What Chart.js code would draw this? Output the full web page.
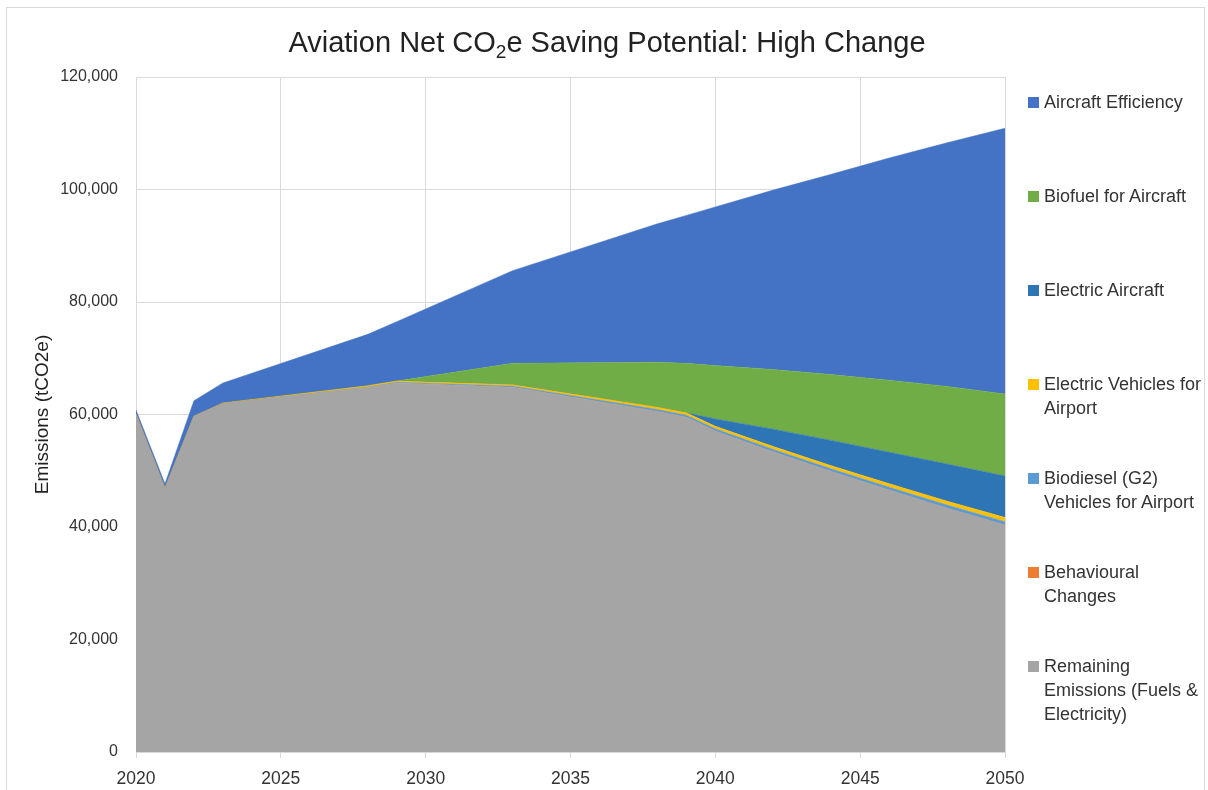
<!DOCTYPE html>
<html>
<head>
<meta charset="utf-8">
<script src="https://cdn.jsdelivr.net/npm/chart.js@4"></script>
<style>
  html, body { margin: 0; padding: 0; background: #fff; overflow: hidden; }
  body { width: 1208px; height: 790px; position: relative; font-family: "Liberation Sans", Arial, sans-serif; color: #333; }
  #frame { position: absolute; left: 6px; top: 7px; width: 1199px; height: 800px; border: 1px solid #D9D9D9; box-sizing: border-box; }
  #wrap { position: absolute; left: 0; top: 0; width: 1208px; height: 790px; }
  #title { position: absolute; left: 0; width: 1214px; top: 25px; text-align: center; font-size: 29px; line-height: 34px; color: #222; white-space: nowrap; }
  #title sub { font-size: 19px; vertical-align: -6px; line-height: 0; }
  .item { position: absolute; left: 1028px; font-size: 18px; line-height: 24px; }
  .item i { position: absolute; left: 0; top: 7px; width: 11px; height: 11px; }
  .item span { display: block; margin-left: 16px; white-space: nowrap; }
</style>
</head>
<body>
<div id="frame"></div>
<div id="wrap"><canvas id="chart" width="1208" height="790"></canvas></div>
<div id="title">Aviation Net CO<sub>2</sub>e Saving Potential: High Change</div>
<div id="legend"></div>
<script>
const years = [2020, 2021, 2022, 2023, 2028, 2029, 2033, 2038, 2039, 2040, 2042, 2044, 2046, 2048, 2050];

const remaining   = [60100, 46900, 59700, 61950, 64800, 65600, 64850, 60550, 59500, 57050, 53350, 49860, 46560, 43350, 40350];
const behavioural = [0, 0, 0, 0, 0, 0, 0, 0, 0, 0, 0, 0, 0, 0, 0];
const biodiesel   = [0, 0, 0, 0, 100, 150, 200, 350, 380, 400, 450, 480, 520, 560, 600];
const evAirport   = [0, 0, 0, 100, 200, 200, 250, 400, 420, 450, 500, 560, 620, 690, 750];
const elecAircraft = [0, 0, 0, 0, 0, 0, 0, 0, 0, 1300, 3100, 4500, 5600, 6600, 7370];
const biofuel     = [0, 0, 0, 0, 0, 0, 3800, 8000, 8800, 9500, 10600, 11700, 12800, 13800, 14580];
const efficiency  = [700, 800, 2750, 3550, 9150, 10550, 16470, 24600, 26300, 28200, 31900, 35600, 39500, 43300, 47250];

const yTicks = [0, 20000, 40000, 60000, 80000, 100000, 120000];
const xTicks = [2020, 2025, 2030, 2035, 2040, 2045, 2050];

// bottom of the stack first
const series = [
  { label: 'Remaining Emissions (Fuels & Electricity)', lines: ['Remaining', 'Emissions (Fuels &', 'Electricity)'], data: remaining, color: '#A5A5A5' },
  { label: 'Behavioural Changes', lines: ['Behavioural', 'Changes'], data: behavioural, color: '#ED7D31' },
  { label: 'Biodiesel (G2) Vehicles for Airport', lines: ['Biodiesel (G2)', 'Vehicles for Airport'], data: biodiesel, color: '#5B9BD5' },
  { label: 'Electric Vehicles for Airport', lines: ['Electric Vehicles for', 'Airport'], data: evAirport, color: '#FFC000' },
  { label: 'Electric Aircraft', lines: ['Electric Aircraft'], data: elecAircraft, color: '#2E75B6' },
  { label: 'Biofuel for Aircraft', lines: ['Biofuel for Aircraft'], data: biofuel, color: '#70AD47' },
  { label: 'Aircraft Efficiency', lines: ['Aircraft Efficiency'], data: efficiency, color: '#4472C4' }
];

const datasets = series.map((s, i) => ({
  label: s.label,
  data: s.data.map((v, j) => ({ x: years[j], y: v })),
  backgroundColor: s.color,
  borderColor: s.color,
  borderWidth: 0.5,
  pointRadius: 0,
  tension: 0,
  fill: i === 0 ? 'origin' : '-1'
}));

new Chart(document.getElementById('chart').getContext('2d'), {
  type: 'line',
  data: { datasets },
  options: {
    responsive: false,
    animation: false,
    layout: { padding: { left: 0, right: 203, top: 77, bottom: 0 } },
    plugins: { legend: { display: false }, tooltip: { enabled: false } },
    scales: {
      x: {
        type: 'linear',
        min: 2020,
        max: 2050,
        afterBuildTicks: s => { s.ticks = xTicks.map(v => ({ value: v })); },
        afterFit: s => { s.height = 38; },
        ticks: { callback: v => String(v), color: '#333', font: { family: 'Liberation Sans', size: 17.5 }, padding: 11, maxRotation: 0 },
        grid: { color: '#D9D9D9', tickLength: 6 },
        border: { color: '#D9D9D9' }
      },
      y: {
        stacked: true,
        min: 0,
        max: 120000,
        afterBuildTicks: s => { s.ticks = yTicks.map(v => ({ value: v })); },
        afterFit: s => { s.width = 136; },
        ticks: { callback: v => v.toLocaleString('en-US'), color: '#333', font: { family: 'Liberation Sans', size: 16 }, padding: 18 },
        grid: { color: '#D9D9D9', drawTicks: false },
        border: { color: '#D9D9D9' },
        title: { display: true, text: 'Emissions (tCO2e)', color: '#222', font: { family: 'Liberation Sans', size: 19 }, padding: { top: 31, bottom: 0 } }
      }
    }
  }
});

// legend on the right, top of stack first
const legend = document.getElementById('legend');
series.slice().reverse().forEach((s, k) => {
  const el = document.createElement('div');
  el.className = 'item';
  el.style.top = (90 + 94 * k) + 'px';
  el.innerHTML = '<i style="background:' + s.color + '"></i>' + s.lines.map(t => '<span></span>').join('');
  el.querySelectorAll('span').forEach((sp, n) => { sp.textContent = s.lines[n]; });
  legend.appendChild(el);
});
</script>
</body>
</html>
